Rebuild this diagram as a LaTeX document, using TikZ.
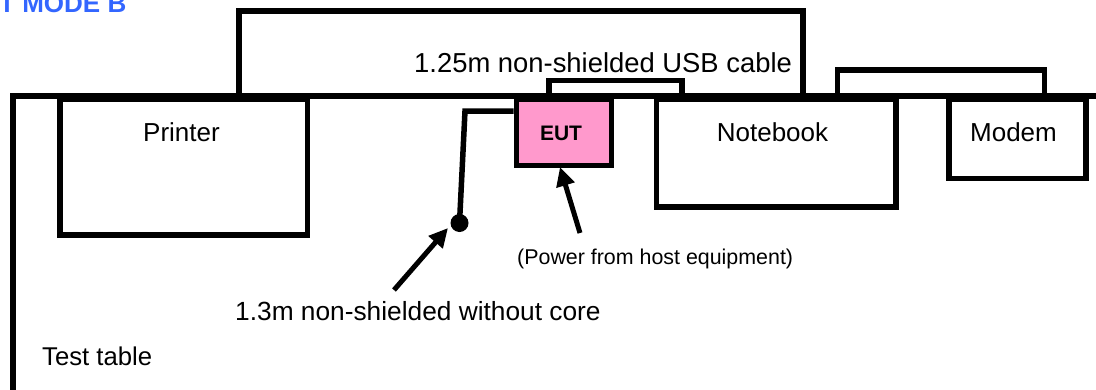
\documentclass[tikz,border=0pt]{standalone}
\usepackage{fontspec}
\setmainfont{Liberation Sans}
\usetikzlibrary{arrows.meta,calc}
\definecolor{eutpink}{HTML}{FF99CC}
\definecolor{titleblue}{HTML}{3366FF}
\begin{document}
\begin{tikzpicture}[x=1pt,y=-1pt,
  lw/.style={line width=5.5pt},
  box/.style={draw, line width=5.5pt, anchor=north west, inner sep=0pt},
  lbl/.style={font=\fontsize{26}{30}\selectfont, anchor=base, inner sep=0pt},
  note/.style={font=\fontsize{26}{30}\selectfont, anchor=base west, inner sep=0pt},
  arr/.style={line width=5pt, -{Triangle[length=19pt,width=18pt]}}]
\useasboundingbox (0,0) rectangle (1096,389);
% title (clipped at the top edge, as in the reference)
\node[anchor=base west, inner sep=0pt, font=\bfseries\fontsize{26}{30}\selectfont, text=titleblue] (title) at (-1,12) {T MODE B};
% test table
\coordinate (tblCorner) at (13,96);
\coordinate (tblBottom) at (13,400);
\coordinate (tblRight) at (1100,96);
\draw[lw] (tblBottom) -- (tblCorner) -- (tblRight);
% equipment
\node[box, minimum width=247.5pt, minimum height=136pt] (printer) at (57,96) {};
\node[box, fill=eutpink, minimum width=95pt, minimum height=66.5pt] (eut) at (513.5,96) {};
\node[box, minimum width=239.5pt, minimum height=108pt] (notebook) at (653.5,96) {};
\node[box, minimum width=137pt, minimum height=79.5pt] (modem) at (946,96) {};
\node[lbl] (printerlbl) at (181.5,141) {Printer};
\node[lbl, font=\bfseries\fontsize{21}{25}\selectfont] (eutlbl) at (561,140) {EUT};
\node[lbl] (notebooklbl) at (772.5,141) {Notebook};
\node[lbl] (modemlbl) at (1013.5,141) {Modem};
% cables
\coordinate (usbA) at (239,11);
\coordinate (usbB) at (803,11);
\draw[lw] (usbA |- printer.north) -- (usbA) -- (usbB) -- (usbB |- notebook.north);
\coordinate (usbC) at (549,80.5);
\coordinate (usbD) at (682,80.5);
\draw[lw] (usbC |- eut.north) -- (usbC) -- (usbD) -- (usbD |- notebook.north);
\coordinate (modA) at (837.5,70);
\coordinate (modB) at (1044.5,70);
\draw[lw] (modA |- notebook.north) -- (modA) -- (modB) -- (modB |- modem.north);
% power cable with plug
\node[circle, fill=black, minimum size=18pt, inner sep=0pt] (plug) at (459.5,223) {};
\coordinate (bend) at (465,111);
\draw[lw] (bend -| eut.west) -- (bend) -- (plug.center);
% arrows
\coordinate (a1tail) at (394,290);
\coordinate (a1tip) at (448,228);
\draw[arr] (a1tail) -- (a1tip);
\coordinate (a2tail) at (580,233);
\coordinate (a2tip) at (560,167);
\draw[arr] (a2tail) -- (a2tip);
% texts
\node[note, font=\fontsize{27.4}{31}\selectfont] (usbtxt) at (414,72) {1.25m non-shielded USB cable};
\node[note, font=\fontsize{26.3}{30}\selectfont] (coretxt) at (235,320) {1.3m non-shielded without core};
\node[note, font=\fontsize{21.4}{25}\selectfont] (powertxt) at (517,264) {(Power from host equipment)};
\node[note, font=\fontsize{25.7}{30}\selectfont] (tabletxt) at (42,365) {Test table};
\end{tikzpicture}
\end{document}
